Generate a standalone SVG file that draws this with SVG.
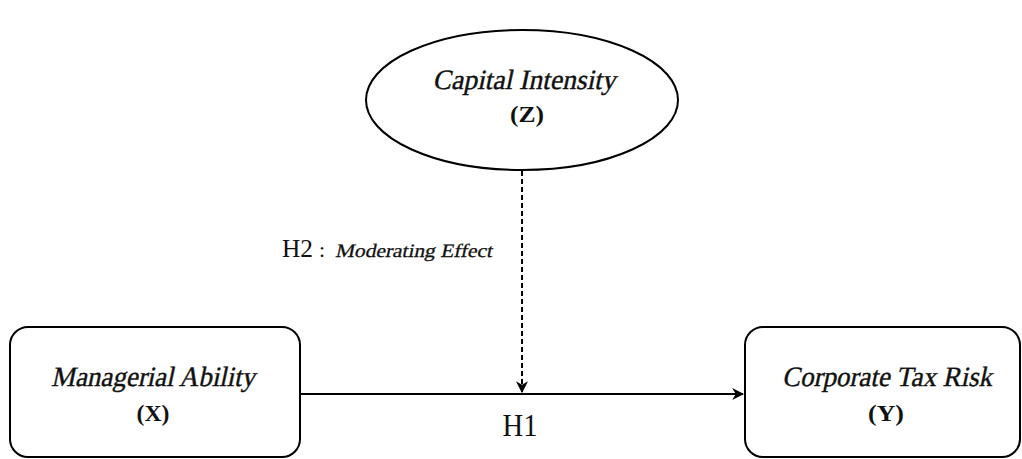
<svg xmlns="http://www.w3.org/2000/svg" width="1022" height="459" viewBox="0 0 1022 459">
<style>
.shape{fill:#fff;stroke:#000;stroke-width:2}
.t{font-family:"Liberation Serif",serif;fill:#111;text-anchor:middle}
.title{font-size:28px;stroke:#111;stroke-width:0.4}
.sub{font-weight:bold;font-size:24px}
.line{stroke:#000;stroke-width:2;fill:none}
</style>
<defs>
<marker id="ah" viewBox="0 0 10 10" refX="9" refY="5" markerWidth="6" markerHeight="6" orient="auto" markerUnits="strokeWidth">
<path d="M0,0 L10,5 L0,10 L3,5 Z" fill="#000"/>
</marker>
</defs>
<rect width="1022" height="459" fill="#fff"/>
<g id="connectors">
<line class="line" x1="300" y1="394" x2="743" y2="394" marker-end="url(#ah)"/>
<line class="line" x1="522" y1="171" x2="522" y2="392" stroke-dasharray="5,3" marker-end="url(#ah)"/>
<text class="t" x="520" y="436" font-size="31" textLength="35" lengthAdjust="spacingAndGlyphs">H1</text>
<text x="282" y="257" font-family="Liberation Serif,serif" font-size="25" fill="#111" textLength="31" lengthAdjust="spacingAndGlyphs">H2</text>
<text x="319" y="257" font-family="Liberation Serif,serif" font-size="22" fill="#111">:</text>
<text transform="translate(335,257) skewX(-12)" x="0" y="0" font-family="Liberation Serif,serif" font-size="19" fill="#111" stroke="#111" stroke-width="0.3" textLength="157" lengthAdjust="spacingAndGlyphs">Moderating Effect</text>
</g>
<g id="nodeZ">
<ellipse class="shape" cx="522" cy="100" rx="156" ry="70"/>
<text class="t title" transform="translate(524,89) skewX(-12)" x="0" y="0" textLength="183" lengthAdjust="spacingAndGlyphs">Capital Intensity</text>
<text class="t sub" x="527" y="122" textLength="34" lengthAdjust="spacingAndGlyphs">(Z)</text>
</g>
<g id="nodeX">
<rect class="shape" x="10" y="327" width="290" height="130" rx="18"/>
<text class="t title" transform="translate(153,386) skewX(-12)" x="0" y="0" textLength="204" lengthAdjust="spacingAndGlyphs">Managerial Ability</text>
<text class="t sub" x="153" y="421" textLength="33" lengthAdjust="spacingAndGlyphs">(X)</text>
</g>
<g id="nodeY">
<rect class="shape" x="745" y="327" width="275" height="130" rx="18"/>
<text class="t title" transform="translate(887,386) skewX(-12)" x="0" y="0" textLength="210" lengthAdjust="spacingAndGlyphs">Corporate Tax Risk</text>
<text class="t sub" x="886" y="421" textLength="36" lengthAdjust="spacingAndGlyphs">(Y)</text>
</g>
</svg>
